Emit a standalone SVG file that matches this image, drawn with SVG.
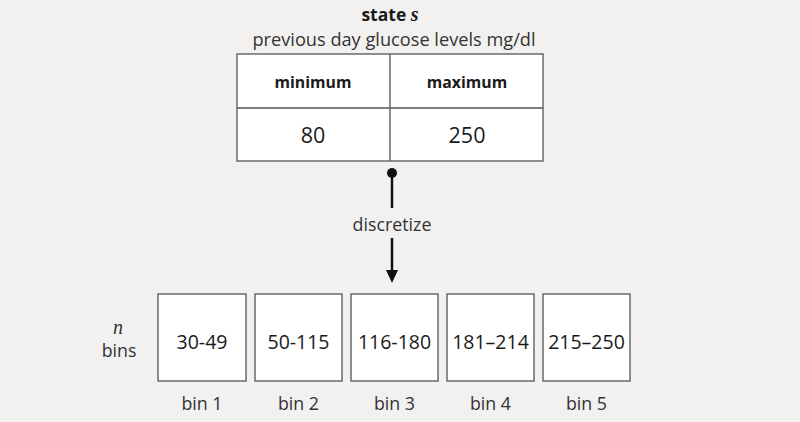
<svg xmlns="http://www.w3.org/2000/svg" width="800" height="422" viewBox="0 0 800 422">
<style>
text{font-family:"Open Sans","Noto Sans",sans-serif;fill:#1a1a1a;text-anchor:middle}
.box{fill:#fff;stroke:#555;stroke-width:1.3}
.hd{font-weight:bold;font-size:15.8px}
.val{font-size:21.5px}
.bin{font-size:19.5px}
.lbl{font-size:17.8px;fill:#333}
.it{font-family:"Liberation Serif","DejaVu Serif",serif;font-style:italic}
</style>
<rect width="800" height="422" fill="#f2f1f0"/>
<g id="title">
<text x="390" y="21" style="font-size:17.5px;font-weight:bold">state <tspan class="it" style="font-size:20px">s</tspan></text>
<text x="394" y="46" style="font-size:18.2px;fill:#333">previous day glucose levels mg/dl</text>
</g>
<g id="state-table">
<rect class="box" x="237" y="54" width="306" height="107"/>
<line x1="237" y1="108" x2="543" y2="108" stroke="#555" stroke-width="1.3"/>
<line x1="390" y1="54" x2="390" y2="161" stroke="#555" stroke-width="1.3"/>
<text class="hd" x="313" y="88">minimum</text>
<text class="hd" x="467" y="88">maximum</text>
<text class="val" x="313" y="143">80</text>
<text class="val" x="467" y="143">250</text>
</g>
<g id="connectors">
<circle cx="392" cy="173" r="5" fill="#111"/>
<line x1="392" y1="173" x2="392" y2="208" stroke="#111" stroke-width="2.5"/>
<line x1="392" y1="238" x2="392" y2="272" stroke="#111" stroke-width="2.5"/>
<path d="M386,270L398,270L392,283z" fill="#111"/>
<text x="392" y="231" style="font-size:17.8px;fill:#333">discretize</text>
</g>
<g id="n-bins">
<text class="it" x="118" y="334" style="font-size:20px;fill:#333">n</text>
<text x="119" y="357" style="font-size:17.8px;fill:#333">bins</text>
</g>
<g id="bin1"><rect class="box" x="158" y="294" width="88" height="87"/><text class="bin" x="202" y="349">30-49</text><text class="lbl" x="202" y="410">bin 1</text></g>
<g id="bin2"><rect class="box" x="255" y="294" width="87" height="87"/><text class="bin" x="298.5" y="349">50-115</text><text class="lbl" x="298.5" y="410">bin 2</text></g>
<g id="bin3"><rect class="box" x="351" y="294" width="87" height="87"/><text class="bin" x="394.5" y="349">116-180</text><text class="lbl" x="394.5" y="410">bin 3</text></g>
<g id="bin4"><rect class="box" x="447" y="294" width="87" height="87"/><text class="bin" x="490.5" y="349">181–214</text><text class="lbl" x="490.5" y="410">bin 4</text></g>
<g id="bin5"><rect class="box" x="543" y="294" width="87" height="87"/><text class="bin" x="586.5" y="349">215–250</text><text class="lbl" x="586.5" y="410">bin 5</text></g>
</svg>
